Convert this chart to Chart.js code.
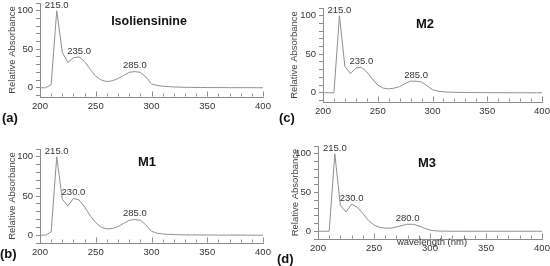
<!DOCTYPE html>
<html>
<head>
<meta charset="utf-8">
<script src="https://cdn.jsdelivr.net/npm/chart.js@4/dist/chart.umd.min.js"></script>
<style>
  html, body { margin: 0; padding: 0; background: #fff; }
  #page { position: relative; width: 550px; height: 266px; overflow: hidden; font-family: "Liberation Sans", Arial, sans-serif; }
  canvas { position: absolute; }
  .lbl { position: absolute; color: #111; font-weight: bold; white-space: nowrap; transform: translate(-50%, -50%); }
  .tag { position: absolute; color: #111; font-weight: bold; font-size: 13px; white-space: nowrap; transform: translateY(-50%); }
</style>
</head>
<body>
<div id="page">
  <canvas id="chartA" width="275" height="133" style="left:0;top:0"></canvas>
  <canvas id="chartC" width="275" height="133" style="left:275px;top:0"></canvas>
  <canvas id="chartB" width="275" height="133" style="left:0;top:133px"></canvas>
  <canvas id="chartD" width="275" height="133" style="left:275px;top:133px"></canvas>

  <div class="lbl" style="left:149px;top:21px;font-size:12.5px">Isoliensinine</div>
  <div class="lbl" style="left:425px;top:23px;font-size:13px">M2</div>
  <div class="lbl" style="left:147px;top:161px;font-size:13px">M1</div>
  <div class="lbl" style="left:427px;top:162px;font-size:13px">M3</div>

  <div class="tag" style="left:2px;top:117px">(a)</div>
  <div class="tag" style="left:279px;top:117px">(c)</div>
  <div class="tag" style="left:0px;top:253px">(b)</div>
  <div class="tag" style="left:277px;top:258px">(d)</div>

  <div class="lbl" style="left:432px;top:241px;font-size:9.5px;font-weight:normal;color:#333">wavelength (nm)</div>
</div>

<script>
const wavelengths = [200, 205, 210, 215, 220, 225, 230, 235, 240, 245, 250, 255, 260, 265, 270, 275, 280, 285, 290, 295,
  300, 305, 310, 315, 320, 325, 330, 335, 340, 345, 350, 355, 360, 365, 370, 375, 380, 385, 390, 395, 400];

const isoliensinine = [0, 0, 4, 100, 46, 33, 39, 40, 34, 24, 15, 10, 8, 9, 12, 16, 20, 21, 20, 14,
  5, 3, 2, 1.5, 1, 0.8, 0.6, 0.5, 0.4, 0.3, 0.3, 0.2, 0.2, 0.2, 0.1, 0.1, 0.1, 0.1, 0.1, 0, 0];
const m1 = [0, 0, 4, 100, 46, 37, 47, 45, 36, 25, 16, 10, 8, 8.5, 11, 15, 19, 20, 19, 13,
  5, 2.5, 1.5, 1, 0.8, 0.5, 0.4, 0.3, 0.3, 0.2, 0.2, 0.2, 0.1, 0.1, 0.1, 0.1, 0.1, 0, 0, 0, 0];
const m2 = [0, 0, 0, 100, 34, 25, 32, 33, 27, 18, 10, 6, 5, 6, 8, 12, 15, 15, 14, 9,
  4, 2, 1.2, 0.8, 0.5, 0.4, 0.3, 0.3, 0.2, 0.2, 0.1, 0.1, 0.1, 0.1, 0, 0, 0, 0, 0, 0, 0];
const m3 = [0, 0, 0, 100, 33, 25, 35, 31, 23, 14, 8, 5, 4, 4, 5.5, 7.5, 9, 9, 7, 4,
  1.5, 0.5, 0.2, 0.1, 0, 0, 0, 0, 0, 0, 0, 0, 0, 0, 0, 0, 0, 0, 0, 0, 0];

const isoPeaks = [215, 235, 285];
const m1Peaks = [215, 230, 285];
const m2Peaks = [215, 235, 285];
const m3Peaks = [215, 230, 280];

const xTickValues = [200, 210, 220, 230, 240, 250, 260, 270, 280, 290, 300, 310, 320, 330, 340, 350, 360, 370, 380, 390, 400];
const yTickValues = [-10, 0, 10, 20, 30, 40, 50, 60, 70, 80, 90, 100, 110];
const yLabelValues = [0, 50, 100];
const xLabelValues = [200, 250, 300, 350, 400];

const FONT = '"Liberation Sans", Arial, sans-serif';
const AXIS = '#8c8c8c';
const LINE = '#8f8f8f';
const TEXT = '#333';

// peak values above the curve + inward tick marks on the x axis
const spectrumDecor = {
  id: 'spectrumDecor',
  afterDraw(chart, args, opts) {
    const { ctx, chartArea, scales: { x, y } } = chart;
    ctx.save();
    ctx.font = `9.5px ${FONT}`;
    ctx.fillStyle = TEXT;
    ctx.textAlign = 'center';
    ctx.textBaseline = 'bottom';
    opts.peaks.forEach((p) => {
      const v = opts.values[wavelengths.indexOf(p)];
      ctx.fillText(p.toFixed(1), x.getPixelForValue(p), y.getPixelForValue(v) - 1);
    });
    ctx.strokeStyle = AXIS;
    ctx.lineWidth = 1;
    const b = Math.round(chartArea.bottom) - 0.5;
    xTickValues.forEach((v) => {
      const px = Math.round(x.getPixelForValue(v)) + 0.5;
      const len = xLabelValues.includes(v) ? 5 : 3;
      ctx.beginPath();
      ctx.moveTo(px, b);
      ctx.lineTo(px, b - len);
      ctx.stroke();
    });
    ctx.restore();
  },
};

function renderSpectrum(id, values, peaks, box) {
  const ctx = document.getElementById(id).getContext('2d');
  return new Chart(ctx, {
    type: 'line',
    data: {
      datasets: [{
        data: wavelengths.map((w, i) => ({ x: w, y: values[i] })),
        borderColor: LINE,
        borderWidth: 1,
        pointRadius: 0,
        tension: 0,
        fill: false,
      }],
    },
    options: {
      responsive: false,
      animation: false,
      devicePixelRatio: 1,
      layout: { padding: { left: 0, top: box.top, right: box.right, bottom: 0 } },
      plugins: {
        legend: { display: false },
        tooltip: { enabled: false },
        spectrumDecor: { peaks, values },
      },
      scales: {
        x: {
          type: 'linear',
          min: 200,
          max: 400,
          afterBuildTicks: (s) => { s.ticks = xTickValues.map((v) => ({ value: v })); },
          afterFit: (s) => { s.height = box.xh; s.paddingLeft = 0; s.paddingRight = 0; },
          ticks: {
            autoSkip: false,
            maxRotation: 0,
            padding: 4,
            color: TEXT,
            font: { family: FONT, size: 9.5 },
            callback: (v) => (xLabelValues.includes(v) ? String(v) : ''),
          },
          grid: { display: true, drawOnChartArea: false, drawTicks: false },
          border: { display: true, color: AXIS, width: 1 },
        },
        y: {
          min: box.ymin,
          max: 110,
          afterBuildTicks: (s) => { s.ticks = yTickValues.filter((v) => v >= box.ymin).map((v) => ({ value: v })); },
          afterFit: (s) => { s.width = box.yw; s.paddingTop = 0; s.paddingBottom = 0; },
          ticks: {
            autoSkip: false,
            padding: 3,
            color: TEXT,
            font: { family: FONT, size: 9.5 },
            callback: (v) => (yLabelValues.includes(v) ? String(v) : ''),
          },
          grid: { display: true, drawOnChartArea: false, drawTicks: true, tickLength: 4, color: AXIS },
          border: { display: true, color: AXIS, width: 1 },
          title: {
            display: true,
            text: 'Relative Absorbance',
            color: '#444',
            font: { family: FONT, size: 9.5 },
            padding: { top: box.tp, bottom: 0 },
          },
        },
      },
    },
    plugins: [spectrumDecor],
  });
}

renderSpectrum('chartA', isoliensinine, isoPeaks, { top: 3, right: 12, xh: 36, yw: 40, ymin: -12, tp: 7 });
renderSpectrum('chartC', m2, m2Peaks, { top: 8, right: 8, xh: 31, yw: 48, ymin: -12, tp: 14 });
renderSpectrum('chartB', m1, m1Peaks, { top: 16, right: 12, xh: 23, yw: 40, ymin: -10, tp: 7 });
renderSpectrum('chartD', m3, m3Peaks, { top: 13, right: 8, xh: 27, yw: 43, ymin: -10, tp: 15 });
</script>
</body>
</html>
